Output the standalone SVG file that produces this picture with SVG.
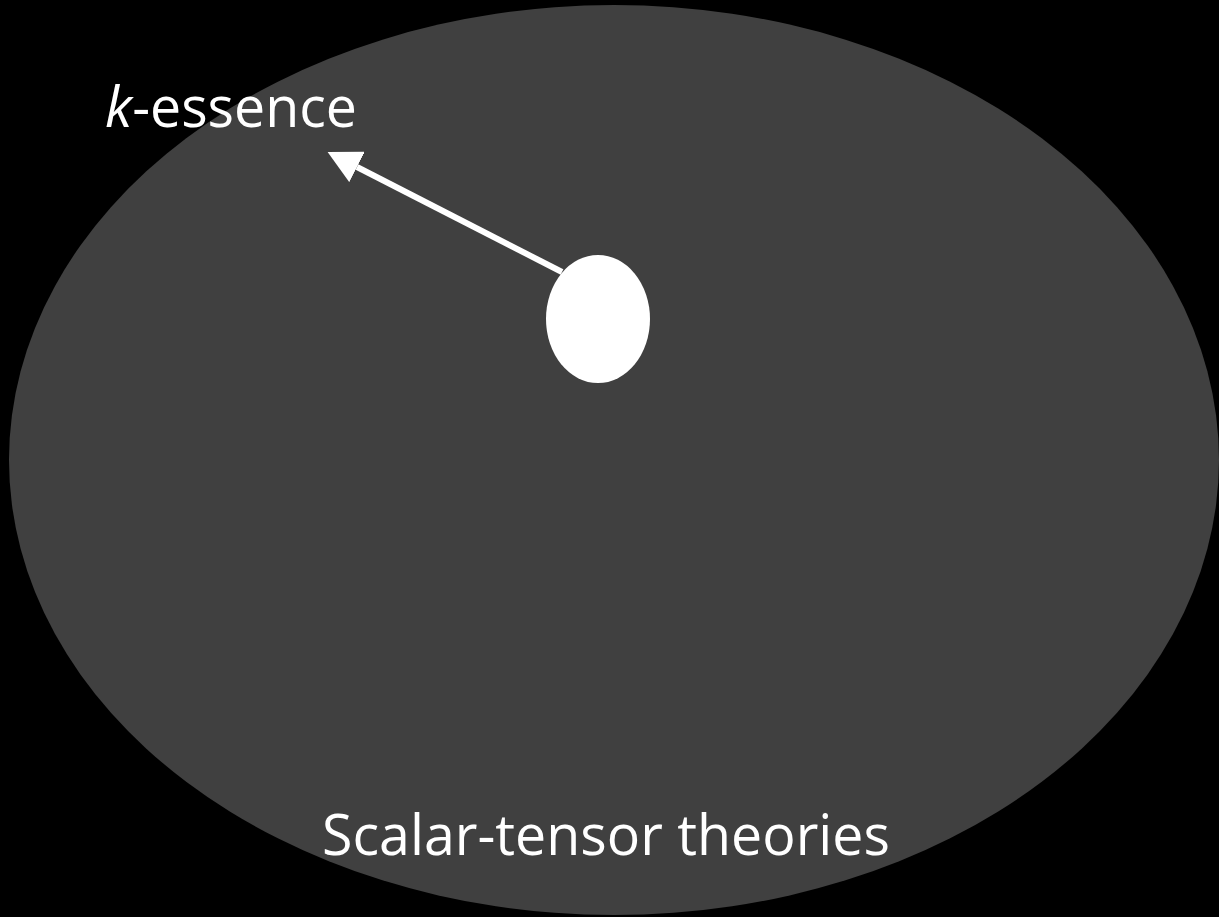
<svg xmlns="http://www.w3.org/2000/svg" width="1219" height="917" viewBox="0 0 1219 917">
<style>
.lbl{fill:#ffffff;font-family:"Open Sans","Liberation Sans",sans-serif;font-size:57px}
</style>
<defs>
<marker id="ah" markerUnits="userSpaceOnUse" markerWidth="34" markerHeight="34" refX="0" refY="17" orient="auto" viewBox="0 0 34 34">
<path d="M0,0 L33,17 L0,34 Z" fill="#ffffff"/>
</marker>
</defs>
<rect x="0" y="0" width="1219" height="917" fill="#000000"/>
<g id="scalar-tensor">
<ellipse cx="614" cy="460" rx="605" ry="455" fill="#404040"/>
<text class="lbl" x="322" y="855" textLength="568" lengthAdjust="spacingAndGlyphs">Scalar-tensor theories</text>
</g>
<g id="kessence-label">
<text class="lbl" x="105" y="127" textLength="252" lengthAdjust="spacingAndGlyphs"><tspan font-style="italic">k</tspan>-essence</text>
</g>
<g id="inner">
<ellipse cx="598" cy="319" rx="52" ry="64" fill="#ffffff"/>
</g>
<g id="connectors">
<line x1="562" y1="272" x2="357" y2="167" stroke="#ffffff" stroke-width="6" marker-end="url(#ah)"/>
</g>
</svg>
